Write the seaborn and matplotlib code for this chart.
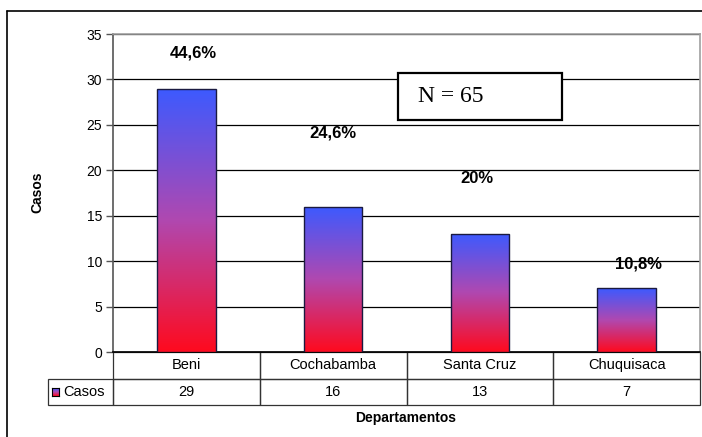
import numpy as np
import pandas as pd
import matplotlib
matplotlib.use("Agg")
import matplotlib.pyplot as plt
from matplotlib.colors import LinearSegmentedColormap
from matplotlib.patches import Rectangle
import seaborn as sns

departamentos = ['Beni', 'Cochabamba', 'Santa Cruz', 'Chuquisaca']
casos = [29, 16, 13, 7]
porcentajes = ['44,6%', '24,6%', '20%', '10,8%']
# where the percent labels sit (hand placed in the original)
pct_x_shift = [0.05, 0.0, -0.02, 0.08]
pct_y = [32.9, 24.1, 19.15, 9.7]

sns.set_theme(style='white')
plt.rcParams['font.family'] = ['Liberation Sans', 'DejaVu Sans']
plt.rcParams['text.color'] = 'black'
plt.rcParams['ytick.color'] = 'black'

W, H = 702, 437
fig = plt.figure(figsize=(W / 100, H / 100), dpi=100)

# plot area in pixels: x 113..700, y 34..352
ax = fig.add_axes([113 / W, 1 - 352 / H, 587 / W, 318 / H])

df = pd.DataFrame({'Departamento': departamentos, 'Casos': casos})
sns.barplot(data=df, x='Departamento', y='Casos', ax=ax, width=0.4,
            color='white', edgecolor='#1a1a40', linewidth=1.0, zorder=3)

grad = LinearSegmentedColormap.from_list('rb', ['#ff0a1e', '#b048b0', '#3c5aff'])
g = np.linspace(0, 1, 256).reshape(-1, 1)
for p in ax.patches:
    x0, y0 = p.get_x(), p.get_y()
    w, h = p.get_width(), p.get_height()
    im = ax.imshow(g, cmap=grad, origin='lower', aspect='auto',
                   extent=[x0, x0 + w, y0, y0 + h], zorder=3.5)
    im.set_clip_path(p)
    p.set_facecolor('none')
    p.set_zorder(4)

ax.set_xlim(-0.5, 3.5)
ax.set_ylim(0, 35)
ax.set_yticks(range(0, 36, 5))
ax.yaxis.grid(True, color='black', linewidth=0.9, zorder=0)
ax.set_axisbelow(True)
ax.tick_params(axis='y', left=True, length=5, width=1, color='#555555',
               labelsize=10, pad=3, labelcolor='black')
ax.tick_params(axis='x', bottom=False, labelbottom=False)
ax.set_xlabel('')
ax.set_ylabel('')
for s in ['top', 'right']:
    ax.spines[s].set_color('#a0a0a0')
    ax.spines[s].set_linewidth(1.2)
ax.spines['left'].set_color('#555555')
ax.spines['bottom'].set_color('black')
ax.spines['left'].set_linewidth(1.2)
ax.spines['bottom'].set_linewidth(1.2)

for i, t in enumerate(porcentajes):
    ax.text(i + pct_x_shift[i], pct_y[i], t, ha='center', va='center',
            fontsize=12, fontweight='bold', color='black', zorder=5)

# data table under the bars; first column holds the legend cell
lab_w = 65 / 587
tab = ax.table(cellText=[[''] + [str(v) for v in casos]],
               colLabels=[''] + departamentos,
               colWidths=[lab_w] + [0.25] * 4, cellLoc='center',
               bbox=[-lab_w, -53 / 318, 1 + lab_w, 53 / 318])
tab.auto_set_font_size(False)
tab.set_fontsize(10.5)
for key, cell in tab.get_celld().items():
    cell.set_edgecolor('#333333')
    cell.set_linewidth(0.9)
    cell.set_facecolor('none')
    cell.get_text().set_color('black')
tab[0, 0].visible_edges = ''

# legend key + label in the first table cell
kax = fig.add_axes([52 / W, 1 - 396 / H, 7 / W, 8 / H])
kax.imshow(g, cmap=grad, origin='lower', aspect='auto')
kax.set_xticks([])
kax.set_yticks([])
for s in kax.spines.values():
    s.set_color('black')
    s.set_linewidth(0.8)
fig.text(63 / W, 1 - 392 / H, 'Casos', fontsize=10.5, va='center', ha='left')

fig.text(406 / W, 1 - 418 / H, 'Departamentos', fontsize=10,
         fontweight='bold', ha='center', va='center')
fig.text(37 / W, 1 - 192 / H, 'Casos', fontsize=10, fontweight='bold',
         rotation=90, ha='center', va='center')

# N box
fig.patches.append(Rectangle((398 / W, 1 - 120 / H), 164 / W, 47 / H,
                             transform=fig.transFigure, facecolor='white',
                             edgecolor='black', linewidth=1.6, zorder=6))
fig.text(451 / W, 1 - 97 / H, 'N = 65', fontsize=17, family='Liberation Serif',
         ha='center', va='center', zorder=7)

# outer chart border (right and bottom lie outside the picture)
fig.add_artist(plt.Line2D([7 / W, 7 / W], [0, 1 - 11 / H], color='black',
                          linewidth=1.2, transform=fig.transFigure))
fig.add_artist(plt.Line2D([7 / W, 1], [1 - 11 / H, 1 - 11 / H], color='black',
                          linewidth=1.2, transform=fig.transFigure))

fig.savefig('out.png', dpi=100)
